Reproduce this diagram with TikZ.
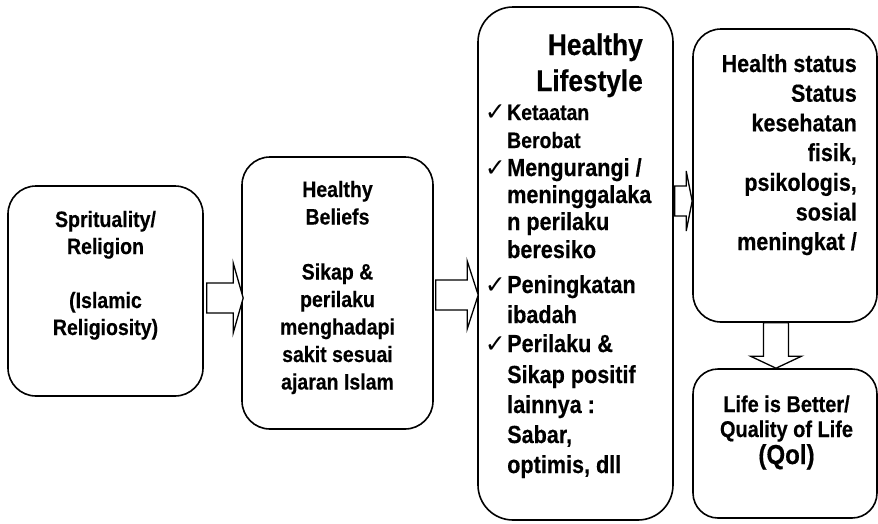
\documentclass[tikz,border=0pt]{standalone}
\usepackage{fontspec}
\setmainfont{Liberation Sans}[FakeStretch=0.875, BoldFeatures={FakeBold=0.4}]
\newfontfamily\checkfont{DejaVu Sans}
\usetikzlibrary{calc}

% bold text at a given size
\newcommand\fsz[1]{\fontsize{#1}{#1}\selectfont\bfseries}

% horizontal block arrow: start, tip, shaft half-width, head half-width, head length
\newcommand\harrow[5]{%
  \draw[blockarrow] ($(#1)+(0,-#3)$) -- ($(#2)+(-#5,-#3)$) -- ($(#2)+(-#5,-#4)$) -- (#2)
    -- ($(#2)+(-#5,#4)$) -- ($(#2)+(-#5,#3)$) -- ($(#1)+(0,#3)$) -- cycle;}
% vertical (downward) block arrow
\newcommand\varrow[5]{%
  \draw[blockarrow] ($(#1)+(-#3,0)$) -- ($(#2)+(-#3,-#5)$) -- ($(#2)+(-#4,-#5)$) -- (#2)
    -- ($(#2)+(#4,-#5)$) -- ($(#2)+(#3,-#5)$) -- ($(#1)+(#3,0)$) -- cycle;}

\tikzset{
  box/.style={draw, line width=1.6pt, rounded corners=28pt, inner sep=0pt},
  blockarrow/.style={draw, line width=1.3pt, fill=white, line join=miter},
  txt/.style={inner sep=0pt, anchor=base},
  txtr/.style={inner sep=0pt, anchor=base east},
  txtl/.style={inner sep=0pt, anchor=base west},
  tick/.style={inner sep=0pt, anchor=base east, font=\checkfont\fontsize{25}{25}\selectfont},
}

\begin{document}
\begin{tikzpicture}[x=1pt, y=-1pt]
\useasboundingbox (0,0) rectangle (878,523);

% boxes
\node[box, minimum width=195pt, minimum height=210pt] (b1) at (105.5,291) {};
\node[box, minimum width=191pt, minimum height=272pt] (b2) at (337.5,293) {};
\node[box, rounded corners=35pt, minimum width=195pt, minimum height=513pt] (b3) at (575.5,263.5) {};
\node[box, minimum width=184pt, minimum height=293pt] (b4) at (785,175.5) {};
\node[box, rounded corners=25pt, minimum width=184pt, minimum height=149pt] (b5) at (785,443.5) {};

% spirituality / religion
\foreach \y/\t [count=\i] in {227/{Sprituality/}, 254/{Religion}, 308/{(Islamic}, 335/{Religiosity)}}
  \node[txt, font=\fsz{22.3}] (t1\i) at (105.5,\y) {\t};

% healthy beliefs
\foreach \y/\t [count=\i] in {197/{Healthy}, 224.5/{Beliefs}, 279.5/{Sikap \&}, 307/{perilaku},
    334.5/{menghadapi}, 362/{sakit sesuai}, 389.5/{ajaran Islam}}
  \node[txt, font=\fsz{22.3}] (t2\i) at (337.5,\y) {\t};

% healthy lifestyle
\node[txtr, font=\fsz{30}] (h3a) at (643,55) {Healthy};
\node[txtr, font=\fsz{30}] (h3b) at (643,91) {Lifestyle};
\foreach \y/\t/\s [count=\i] in {120/{Ketaatan}/22.2, 148/{Berobat}/22.2, 176/{Mengurangi /}/24.7,
    203/{meninggalaka}/24.7, 230/{n perilaku}/24.7, 258/{beresiko}/24.7, 293/{Peningkatan}/24.7,
    323/{ibadah}/24.7, 352/{Perilaku \&}/24.7, 383/{Sikap positif}/24.7, 413/{lainnya :}/24.7,
    443/{Sabar,}/24.7, 473/{optimis, dll}/24.7}
  \node[txtl, font=\fsz{\s}] (t3\i) at (507,\y) {\t};
\foreach \i in {1,3,7,9}
  \node[tick] (k\i) at ($(t3\i.base west)+(-1,0)$) {✓};

% health status
\foreach \y/\t [count=\i] in {72/{Health status}, 101.7/{Status}, 131.4/{kesehatan}, 161/{fisik,},
    190.8/{psikologis,}, 220.5/{sosial}, 250/{meningkat /}}
  \node[txtr, font=\fsz{24.6}] (t4\i) at (857,\y) {\t};

% quality of life
\node[txt, font=\fsz{22.8}] (t51) at (786.5,412) {Life is Better/};
\node[txt, font=\fsz{22.8}] (t52) at (786.5,437) {Quality of Life};
\node[txt, font=\fsz{27.5}] (t53) at (786.5,464) {(Qol)};

% arrows
\coordinate (a1s) at ($(b1.east |- 0,298)+(3,0)$);
\coordinate (a1e) at ($(b2.west |- 0,298)+(2,0)$);
\harrow{a1s}{a1e}{15}{35}{10}
\coordinate (a2s) at ($(b2.east |- 0,295)+(2,0)$);
\coordinate (a2e) at ($(b3.west |- 0,295)+(1,0)$);
\harrow{a2s}{a2e}{15}{34}{11}
\coordinate (a3s) at ($(b3.east |- 0,201)+(1,0)$);
\coordinate (a3e) at (b4.west |- 0,201);
\harrow{a3s}{a3e}{15}{30}{6}
\coordinate (a4s) at (776,0 |- b4.south);
\coordinate (a4e) at (776,0 |- b5.north);
\varrow{a4s}{a4e}{12.5}{25.5}{12}
\end{tikzpicture}
\end{document}
